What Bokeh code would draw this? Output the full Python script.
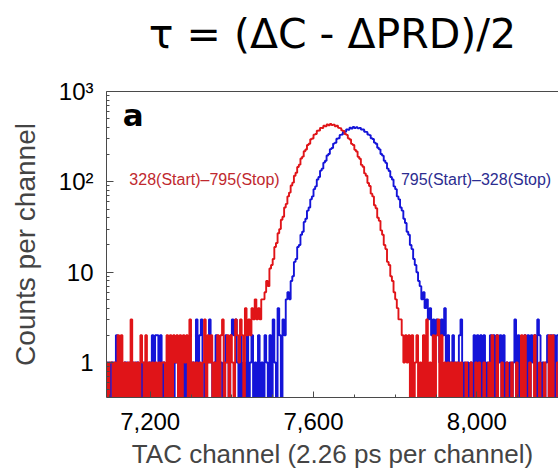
import numpy as np
from bokeh.plotting import figure
from bokeh.models import Range1d, FixedTicker, LinearAxis, Label
from bokeh.embed import file_html
from bokeh.resources import INLINE

# ---------------- data ----------------
BIN_START = 7092          # first TAC channel of the first bin
BIN_WIDTH = 4             # channels per bin

# counts per channel, 328(Start)-795(Stop)
RED_COUNTS = [
    1, 0, 1, 1, 0, 1, 0, 2, 0, 2,
    0, 1, 0, 1, 0, 3, 0, 1, 0, 1,
    0, 2, 1, 0, 2, 0, 1, 0, 1, 0,
    1, 0, 1, 0, 1, 1, 0, 2, 0, 2,
    0, 2, 1, 2, 0, 2, 0, 2, 1, 2,
    0, 3, 0, 1, 0, 1, 0, 1, 0, 1,
    3, 0, 2, 1, 2, 0, 1, 0, 2, 0,
    2, 3, 0, 1, 2, 0, 2, 1, 0, 3,
    2, 1, 3, 2, 0, 4, 2, 3, 2, 4, 3, 5,
    3, 4, 3, 5, 5, 6, 8, 7, 11, 12,
    14, 19, 21, 27, 30, 38, 41, 52, 57, 69,
    76, 91, 98, 117, 126, 146, 155, 181, 190, 218,
    228, 256, 264, 296, 302, 333, 339, 368, 370, 396,
    394, 418, 411, 431, 422, 436, 425, 430, 413, 417,
    396, 393, 371, 366, 338, 331, 303, 294, 263, 256,
    226, 217, 189, 180, 154, 147, 124, 117, 97, 90,
    74, 69, 55, 51, 40, 37, 29, 26, 20, 18,
    13, 12, 9, 8, 6, 5, 4, 3, 3, 2, 1, 2,
    1, 2, 0, 2, 0, 1, 2, 0, 1, 0,
    2, 0, 3, 0, 1, 0, 2, 0, 2, 3,
    0, 2, 0, 1, 0, 1, 0, 1, 0, 1,
    0, 1, 0, 1, 0, 0, 1, 0, 0, 1,
    0, 0, 1, 0, 1, 0, 0, 1, 0, 0,
    1, 0, 2, 0, 0, 2, 0, 0, 1, 0,
    0, 1, 0, 0, 1, 0, 0, 1, 0, 0,
    2, 0, 2, 0, 0, 1, 0, 0, 2, 0,
    0, 1, 0, 0, 1, 0, 0, 2, 0, 2,
    0, 0, 1,
]

# counts per channel, 795(Start)-328(Stop)
BLUE_COUNTS = [
    0, 1, 0, 1, 1, 0, 2, 1, 0, 1,
    0, 1, 1, 0, 1, 0, 1, 0, 1, 1,
    0, 1, 0, 1, 1, 0, 1, 1, 2, 1,
    2, 2, 1, 2, 0, 1, 0, 1, 1, 0,
    1, 0, 1, 1, 0, 1, 0, 1, 0, 1,
    1, 0, 1, 1, 0, 3, 1, 2, 3, 1,
    0, 1, 1, 3, 1, 0, 1, 2, 0, 1,
    1, 0, 1, 2, 1, 0, 2, 3, 2, 3,
    1, 0, 2, 0, 1, 0, 2, 0, 1, 2,
    0, 1, 0, 2, 0, 1, 0, 2, 1, 0,
    2, 0, 3, 1, 0, 4, 2, 0, 3, 2,
    5, 6, 5, 8, 9, 13, 14, 19, 20, 26,
    28, 36, 39, 48, 52, 64, 69, 83, 89, 106,
    113, 133, 140, 163, 171, 196, 203, 230, 237, 265,
    271, 300, 304, 331, 334, 359, 358, 381, 377, 397,
    390, 404, 395, 403, 391, 396, 379, 380, 359, 357,
    334, 329, 304, 298, 272, 264, 238, 229, 203, 195,
    171, 162, 140, 132, 113, 106, 89, 83, 69, 64,
    52, 48, 39, 35, 28, 26, 20, 18, 14, 12,
    10, 8, 7, 5, 6, 4, 5, 3, 4, 2, 3,
    2, 3, 2, 1, 3, 2, 4, 1, 2, 1,
    1, 2, 0, 1, 0, 2, 3, 0, 1, 0,
    1, 0, 1, 0, 2, 0, 2, 1, 2, 0,
    2, 0, 1, 0, 2, 0, 2, 0, 2, 1,
    2, 0, 2, 0, 1, 0, 1, 0, 1, 3,
    0, 2, 0, 1, 0, 2, 0, 2, 0, 2,
    1, 2, 0, 3, 2, 0, 1, 0, 1, 2,
    0, 2, 0, 2, 0, 2,
]

RED_LABEL = "328(Start)\u2013795(Stop)"
BLUE_LABEL = "795(Start)\u2013328(Stop)"
TITLE = "\u03c4 = (\u0394C - \u0394PRD)/2"
PANEL = "a"

X_TICKS = [7200, 7600, 8000]
X_TICK_LABELS = ["7,200", "7,600", "8,000"]
X_MINOR = [7100, 7300, 7400, 7500, 7700, 7800, 7900, 8100, 8200]
Y_TICKS = [1, 10, 100, 1000]
Y_TICK_LABELS = ["1", "10", "10\u00b2", "10\u00b3"]
Y_MINOR = [m * 10.0 ** k for k in range(-1, 3) for m in range(2, 10)]

X_LABEL = "TAC channel (2.26 ps per channel)"
Y_LABEL = "Counts per channel"

# ---------------- figure ----------------
FONT = "Liberation Sans"
AXIS_COLOR = "#4a4a4a"

p = figure(width=558, height=474, output_backend="svg", toolbar_location=None,
           x_range=Range1d(7093, 8200), y_range=Range1d(0.41, 1000),
           y_axis_type="log",
           min_border_left=106, min_border_right=0,
           min_border_top=91, min_border_bottom=77)
p.grid.visible = False
p.outline_line_color = None
p.background_fill_color = "white"
p.border_fill_color = "white"


def step_xy(counts):
    c = np.asarray(counts, dtype=float)
    edges = BIN_START + BIN_WIDTH * np.arange(len(c) + 1)
    xs = np.repeat(edges, 2)[1:-1]
    ys = np.repeat(np.where(c > 0, c, 0.1), 2)
    return xs, ys


bx, by = step_xy(BLUE_COUNTS)
rx, ry = step_xy(RED_COUNTS)
p.line(bx, by, line_color="#1414d8", line_width=1.9)
p.line(rx, ry, line_color="#e01418", line_width=1.9)

# x axis
xa = p.xaxis[0]
xa.ticker = FixedTicker(ticks=X_TICKS, minor_ticks=X_MINOR)
xa.major_label_overrides = dict(zip(X_TICKS, X_TICK_LABELS))
xa.major_tick_in = 6
xa.major_tick_out = 0
xa.minor_tick_in = 3
xa.minor_tick_out = 0
xa.major_label_standoff = 15
xa.axis_label = X_LABEL
xa.axis_label_standoff = 6
xa.axis_label_text_font = FONT
xa.axis_label_text_font_style = "normal"
xa.axis_label_text_font_size = "26px"
xa.major_label_text_font = FONT
xa.major_label_text_font_size = "24px"
xa.major_label_text_color = "black"
xa.axis_line_color = AXIS_COLOR
xa.major_tick_line_color = AXIS_COLOR
xa.minor_tick_line_color = AXIS_COLOR

# y axis
ya = p.yaxis[0]
ya.ticker = FixedTicker(ticks=Y_TICKS, minor_ticks=Y_MINOR)
ya.major_label_overrides = dict(zip(Y_TICKS, Y_TICK_LABELS))
ya.major_tick_in = 7
ya.major_tick_out = 0
ya.minor_tick_in = 3
ya.minor_tick_out = 0
ya.major_label_standoff = 13
ya.axis_label = Y_LABEL
ya.axis_label_standoff = 15
ya.axis_label_text_font = FONT
ya.axis_label_text_font_style = "normal"
ya.axis_label_text_font_size = "28px"
ya.major_label_text_font = FONT
ya.major_label_text_font_size = "24px"
ya.major_label_text_color = "black"
ya.axis_line_color = AXIS_COLOR
ya.major_tick_line_color = AXIS_COLOR
ya.minor_tick_line_color = AXIS_COLOR

# top frame line; its axis label carries the heading
top = LinearAxis(ticker=FixedTicker(ticks=[]), major_tick_in=0, major_tick_out=0,
                 minor_tick_in=0, minor_tick_out=0, major_label_text_font_size="0px",
                 major_tick_line_color=None, minor_tick_line_color=None,
                 axis_line_color=AXIS_COLOR,
                 axis_label=TITLE, axis_label_standoff=34,
                 axis_label_text_font="DejaVu Sans",
                 axis_label_text_font_style="normal",
                 axis_label_text_font_size="41px",
                 axis_label_text_color="black",
                 axis_label_align="center")
p.add_layout(top, "above")

# annotations
p.add_layout(Label(x=7133, y=555, text=PANEL, text_font="DejaVu Sans",
                   text_font_style="bold", text_font_size="31px",
                   text_color="black", text_baseline="alphabetic"))
p.add_layout(Label(x=7149, y=106, text=RED_LABEL, text_font=FONT,
                   text_font_size="16px", text_color="#c0282e",
                   text_baseline="middle"))
p.add_layout(Label(x=7814, y=106, text=BLUE_LABEL, text_font=FONT,
                   text_font_size="16px", text_color="#2c2c90",
                   text_baseline="middle"))

open("out.html", "w").write(file_html(p, INLINE))
